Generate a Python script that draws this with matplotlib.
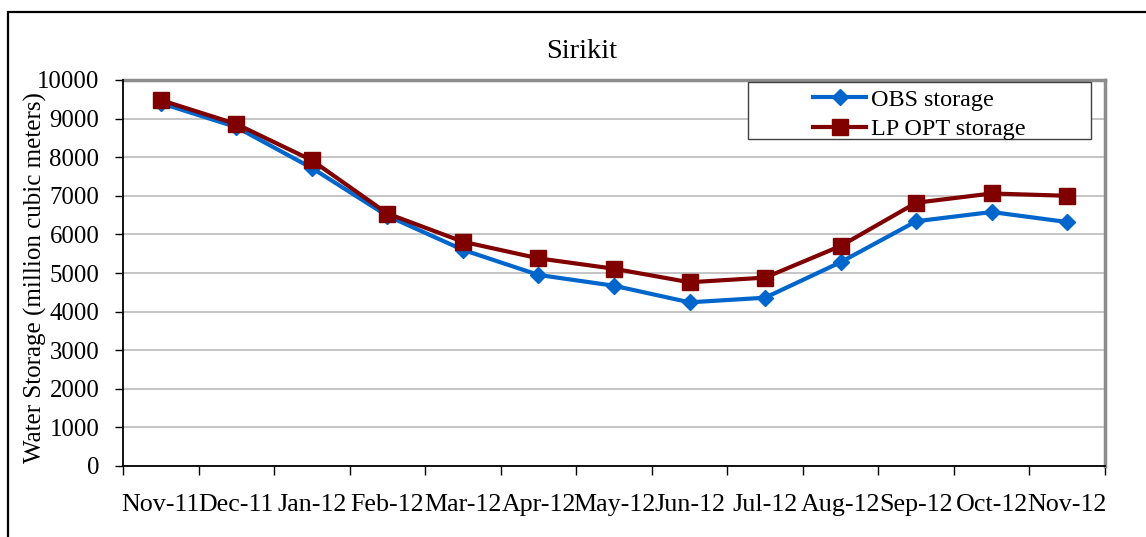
import matplotlib
matplotlib.use("Agg")
import matplotlib.pyplot as plt
from matplotlib.patches import Rectangle
import numpy as np

# data
months = ["Nov-11", "Dec-11", "Jan-12", "Feb-12", "Mar-12", "Apr-12", "May-12",
          "Jun-12", "Jul-12", "Aug-12", "Sep-12", "Oct-12", "Nov-12"]
obs_storage = [9400, 8780, 7720, 6480, 5600, 4950, 4670, 4240, 4360, 5280, 6340, 6580, 6320]
lp_opt_storage = [9480, 8860, 7920, 6540, 5810, 5380, 5110, 4760, 4880, 5700, 6820, 7060, 7000]

plt.rcParams["font.family"] = ["Liberation Serif", "DejaVu Serif"]

W, H = 1146, 537
fig = plt.figure(figsize=(W / 100, H / 100), dpi=100)

# outer chart frame (only top/left visible)
fig.patches.append(Rectangle((8 / W, -0.1), 1.2, (H - 12) / H + 0.1, transform=fig.transFigure,
                             fill=False, edgecolor="black", linewidth=1.6, zorder=0))

L, R, T, B = 123, 1105, 80, 466
ax = fig.add_axes([L / W, (H - B) / H, (R - L) / W, (B - T) / H])

x = np.arange(len(months)) + 0.5
ax.plot(x, obs_storage, color="#0066cc", lw=3, marker="D", ms=8.5, mec="#0066cc",
        label="OBS storage", zorder=3)
ax.plot(x, lp_opt_storage, color="#800000", lw=3, marker="s", ms=12, mec="#800000",
        label="LP OPT storage", zorder=4)

ax.set_xlim(0, len(months))
ax.set_ylim(0, 10000)
ax.set_yticks(np.arange(0, 10001, 1000))
ax.set_xticks(np.arange(0, len(months) + 1))
ax.set_xticklabels([])
ax.set_xticks(x, minor=True)
ax.set_xticklabels(months, minor=True, fontsize=18.7)
ax.tick_params(axis="x", which="major", direction="out", length=6.5, width=1, color="black")
ax.tick_params(axis="x", which="minor", length=0, pad=20)
ax.tick_params(axis="y", direction="out", length=6, width=1, labelsize=17.8, pad=11)
ax.grid(axis="y", color="#c0c0c0", lw=1.3)
ax.set_axisbelow(True)

for s in ["top", "right"]:
    ax.spines[s].set_color("#8c8c8c")
    ax.spines[s].set_linewidth(2.5)
for s in ["left", "bottom"]:
    ax.spines[s].set_color("black")
    ax.spines[s].set_linewidth(1.3)
ax.spines["left"].set_zorder(5)
ax.spines["bottom"].set_zorder(5)

fig.text(35 / W, 1 - 278 / H, "Water Storage (million cubic meters)", rotation=90,
         ha="center", va="center", fontsize=18)
fig.text(582 / W, 1 - 52 / H, "Sirikit", ha="center", va="center", fontsize=20.5)

# legend box
lx0, lx1, ly0, ly1 = 748, 1091, 82, 139
to_ax = lambda px, py: ((px - L) / (R - L), (B - py) / (B - T))
a0 = to_ax(lx0, ly1)
a1 = to_ax(lx1, ly0)
ax.add_patch(Rectangle(a0, a1[0] - a0[0], a1[1] - a0[1], transform=ax.transAxes,
                       facecolor="white", edgecolor="#404040", lw=1, zorder=6))
lc = to_ax(919.5, 114.5)
leg = ax.legend(loc="center", bbox_to_anchor=lc,
                frameon=False, fontsize=17.4, handlelength=2.2, handletextpad=0.2,
                labelspacing=0.33, borderpad=0)
leg.set_zorder(7)
for t in leg.get_texts():
    t.set_ha("left")

fig.savefig("out.png", dpi=100)
